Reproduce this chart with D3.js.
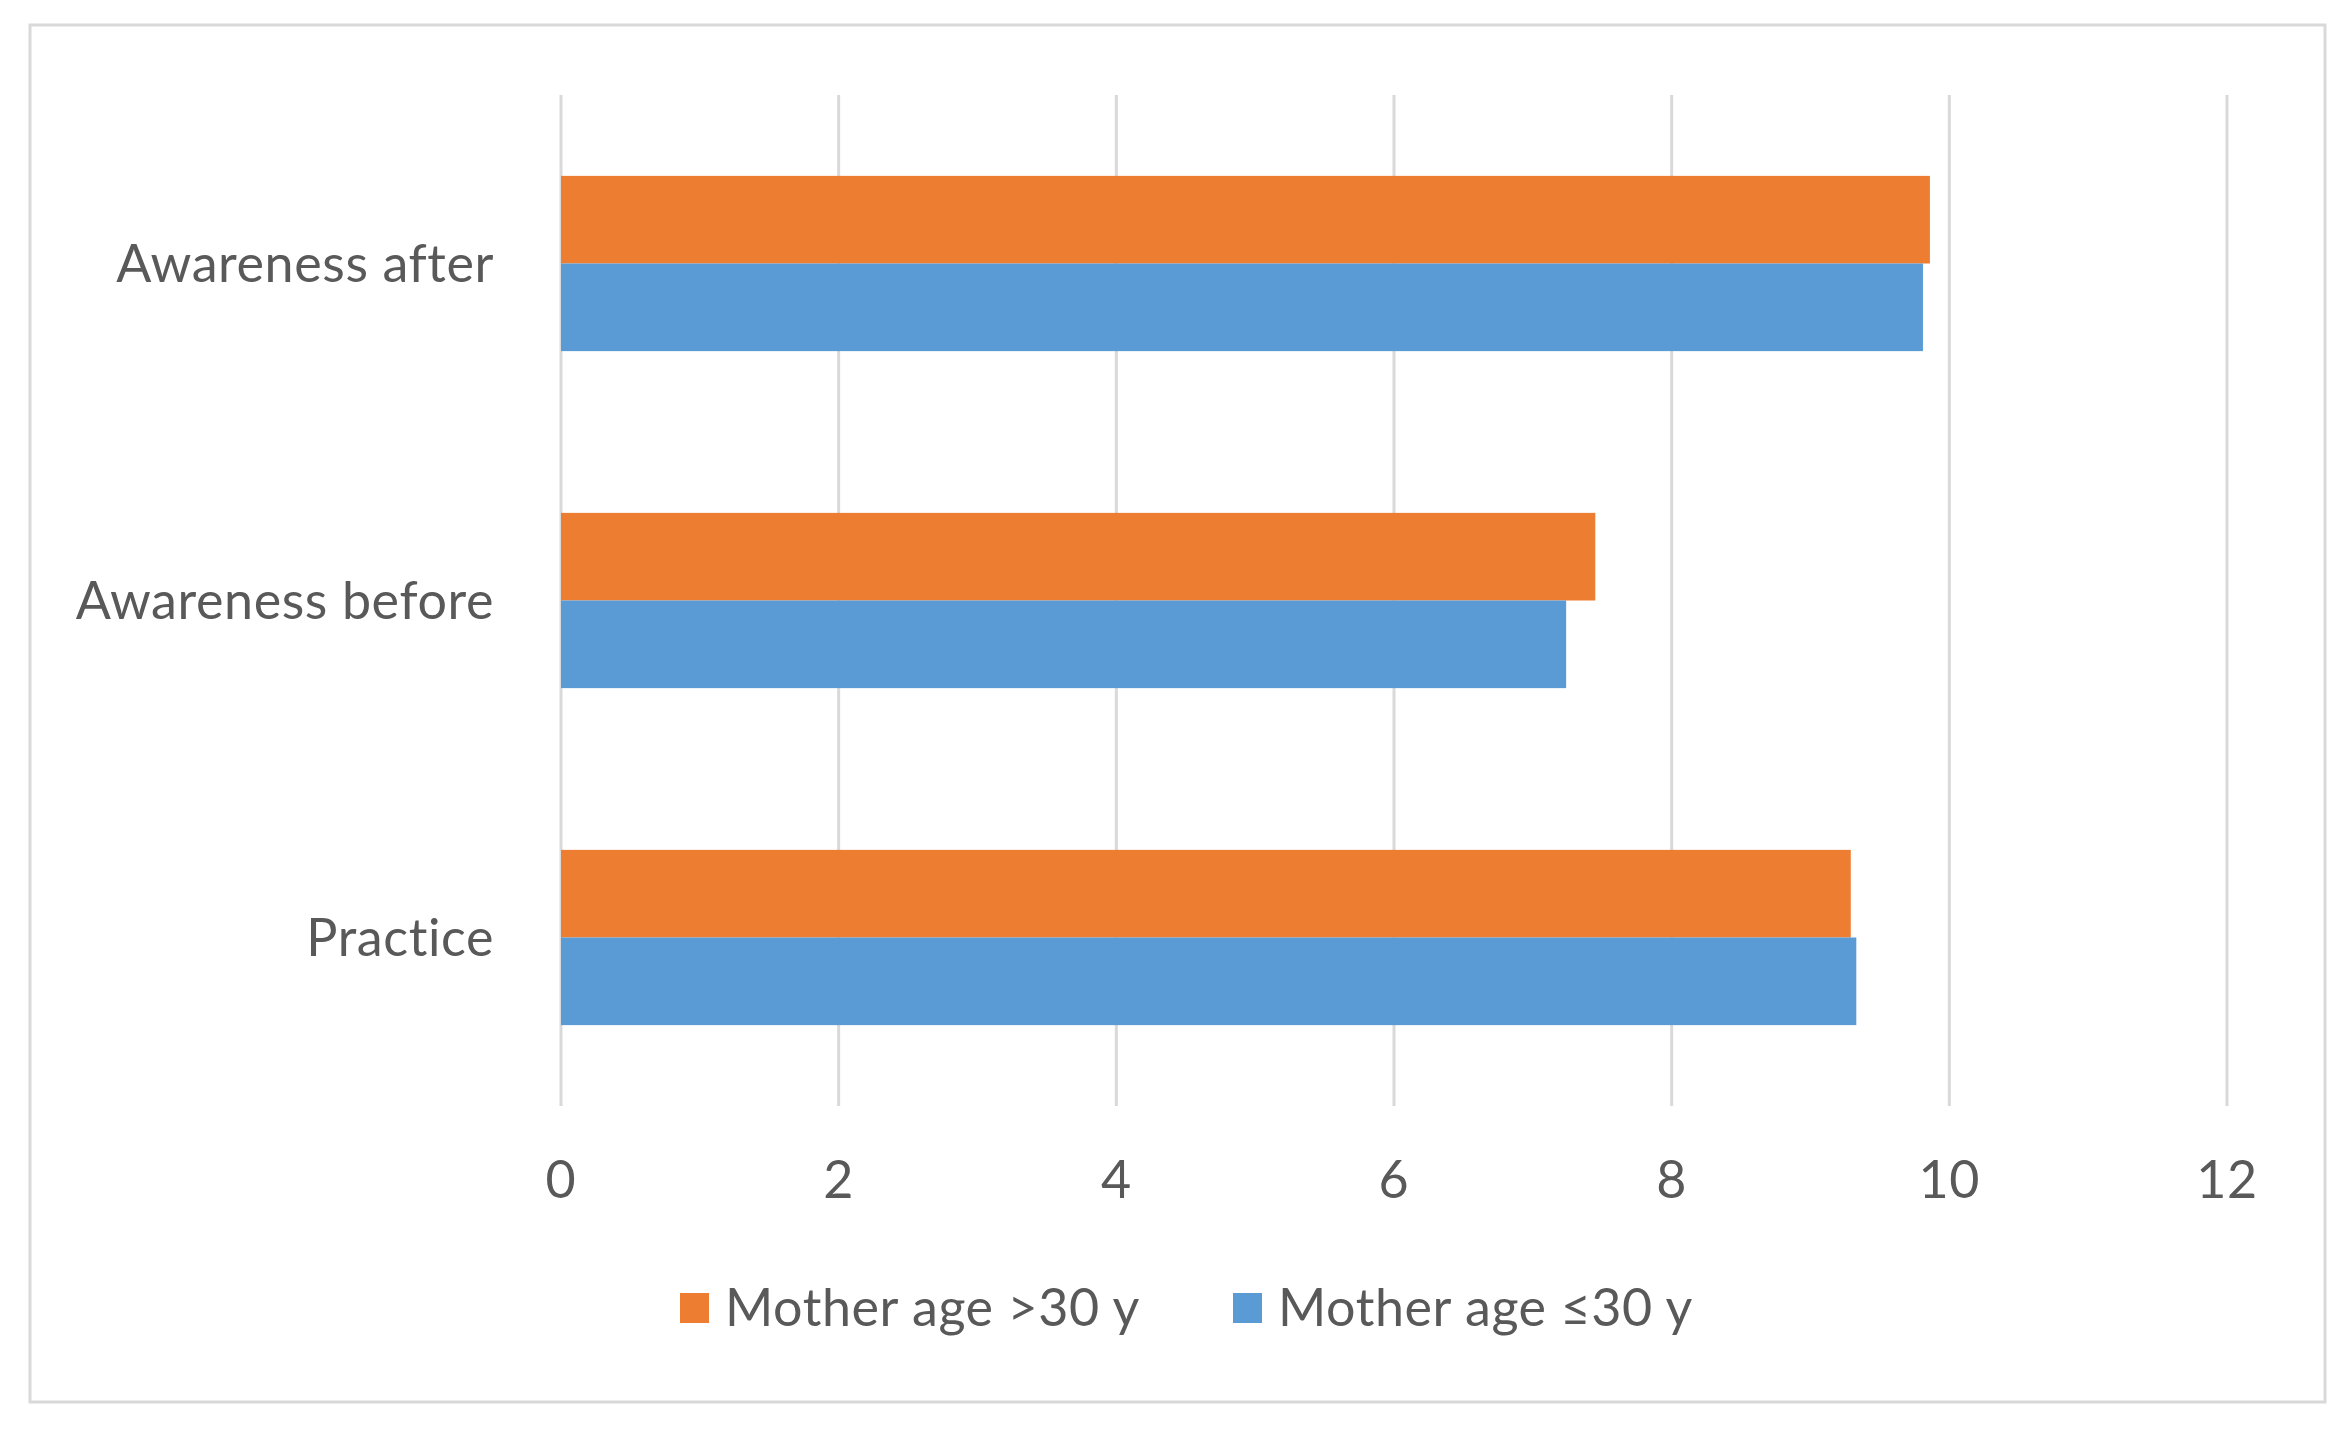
<!DOCTYPE html>
<html>
<head>
    <script src="https://cdnjs.cloudflare.com/ajax/libs/d3/7.8.5/d3.min.js"></script>
    <style>
        body { margin: 0; background: #fff; }
        svg { display: block; }
        .lbl {
            font-family: Lato, "Open Sans", sans-serif;
            font-size: 52px;
            letter-spacing: 0.6px;
            fill: #595959;
        }
    </style>
</head>
<body>
    <svg width="2351" height="1446"></svg>
    <script>
        // Data
        const categories = ["Awareness after", "Awareness before", "Practice"];
        const seriesNames = ["Mother age >30 y", "Mother age \u226430 y"];
        const olderValues = [9.86, 7.45, 9.29];
        const youngerValues = [9.81, 7.24, 9.33];
        const xTicks = [0, 2, 4, 6, 8, 10, 12];
        const colors = ["#ED7D31", "#5B9BD5"];

        const svg = d3.select("svg");

        // outer frame
        svg.append("rect")
            .attr("x", 30).attr("y", 25)
            .attr("width", 2295).attr("height", 1377)
            .attr("fill", "#fff")
            .attr("stroke", "#d9d9d9")
            .attr("stroke-width", 3);

        const plotLeft = 561, plotRight = 2227, plotTop = 95, plotBottom = 1106;

        const x = d3.scaleLinear().domain([0, 12]).range([plotLeft, plotRight]);
        const y = d3.scaleBand().domain(categories).range([plotTop, plotBottom])
            .paddingInner(0.48).paddingOuter(0.24);
        const ySub = d3.scaleBand().domain(seriesNames).range([0, y.bandwidth()]);

        // gridlines
        svg.append("g")
            .selectAll("line")
            .data(xTicks)
            .join("line")
            .attr("x1", d => x(d)).attr("x2", d => x(d))
            .attr("y1", plotTop).attr("y2", plotBottom)
            .attr("stroke", "#d9d9d9")
            .attr("stroke-width", 3);

        // bars
        const rows = categories.map((c, i) => ({ cat: c, vals: [olderValues[i], youngerValues[i]] }));
        svg.append("g")
            .selectAll("g")
            .data(rows)
            .join("g")
            .attr("transform", d => `translate(0,${y(d.cat)})`)
            .selectAll("rect")
            .data(d => d.vals.map((v, j) => ({ name: seriesNames[j], v, j })))
            .join("rect")
            .attr("x", x(0))
            .attr("y", d => ySub(d.name))
            .attr("width", d => x(d.v) - x(0))
            .attr("height", ySub.bandwidth())
            .attr("fill", d => colors[d.j]);

        // x tick labels
        svg.append("g")
            .selectAll("text")
            .data(xTicks)
            .join("text")
            .attr("class", "lbl")
            .attr("x", d => x(d))
            .attr("y", 1198)
            .attr("text-anchor", "middle")
            .text(d => d);

        // category labels
        svg.append("g")
            .selectAll("text")
            .data(categories)
            .join("text")
            .attr("class", "lbl")
            .attr("x", 494)
            .attr("y", d => y(d) + y.bandwidth() / 2 + 18)
            .attr("text-anchor", "end")
            .text(d => d);

        // legend
        const legendX = [680, 1233];
        const legend = svg.append("g")
            .selectAll("g")
            .data(seriesNames)
            .join("g")
            .attr("transform", (d, i) => `translate(${legendX[i]},1293)`);
        legend.append("rect")
            .attr("width", 29).attr("height", 30)
            .attr("fill", (d, i) => colors[i]);
        legend.append("text")
            .attr("class", "lbl")
            .attr("x", 45)
            .attr("y", 33)
            .text(d => d);
    </script>
</body>
</html>
